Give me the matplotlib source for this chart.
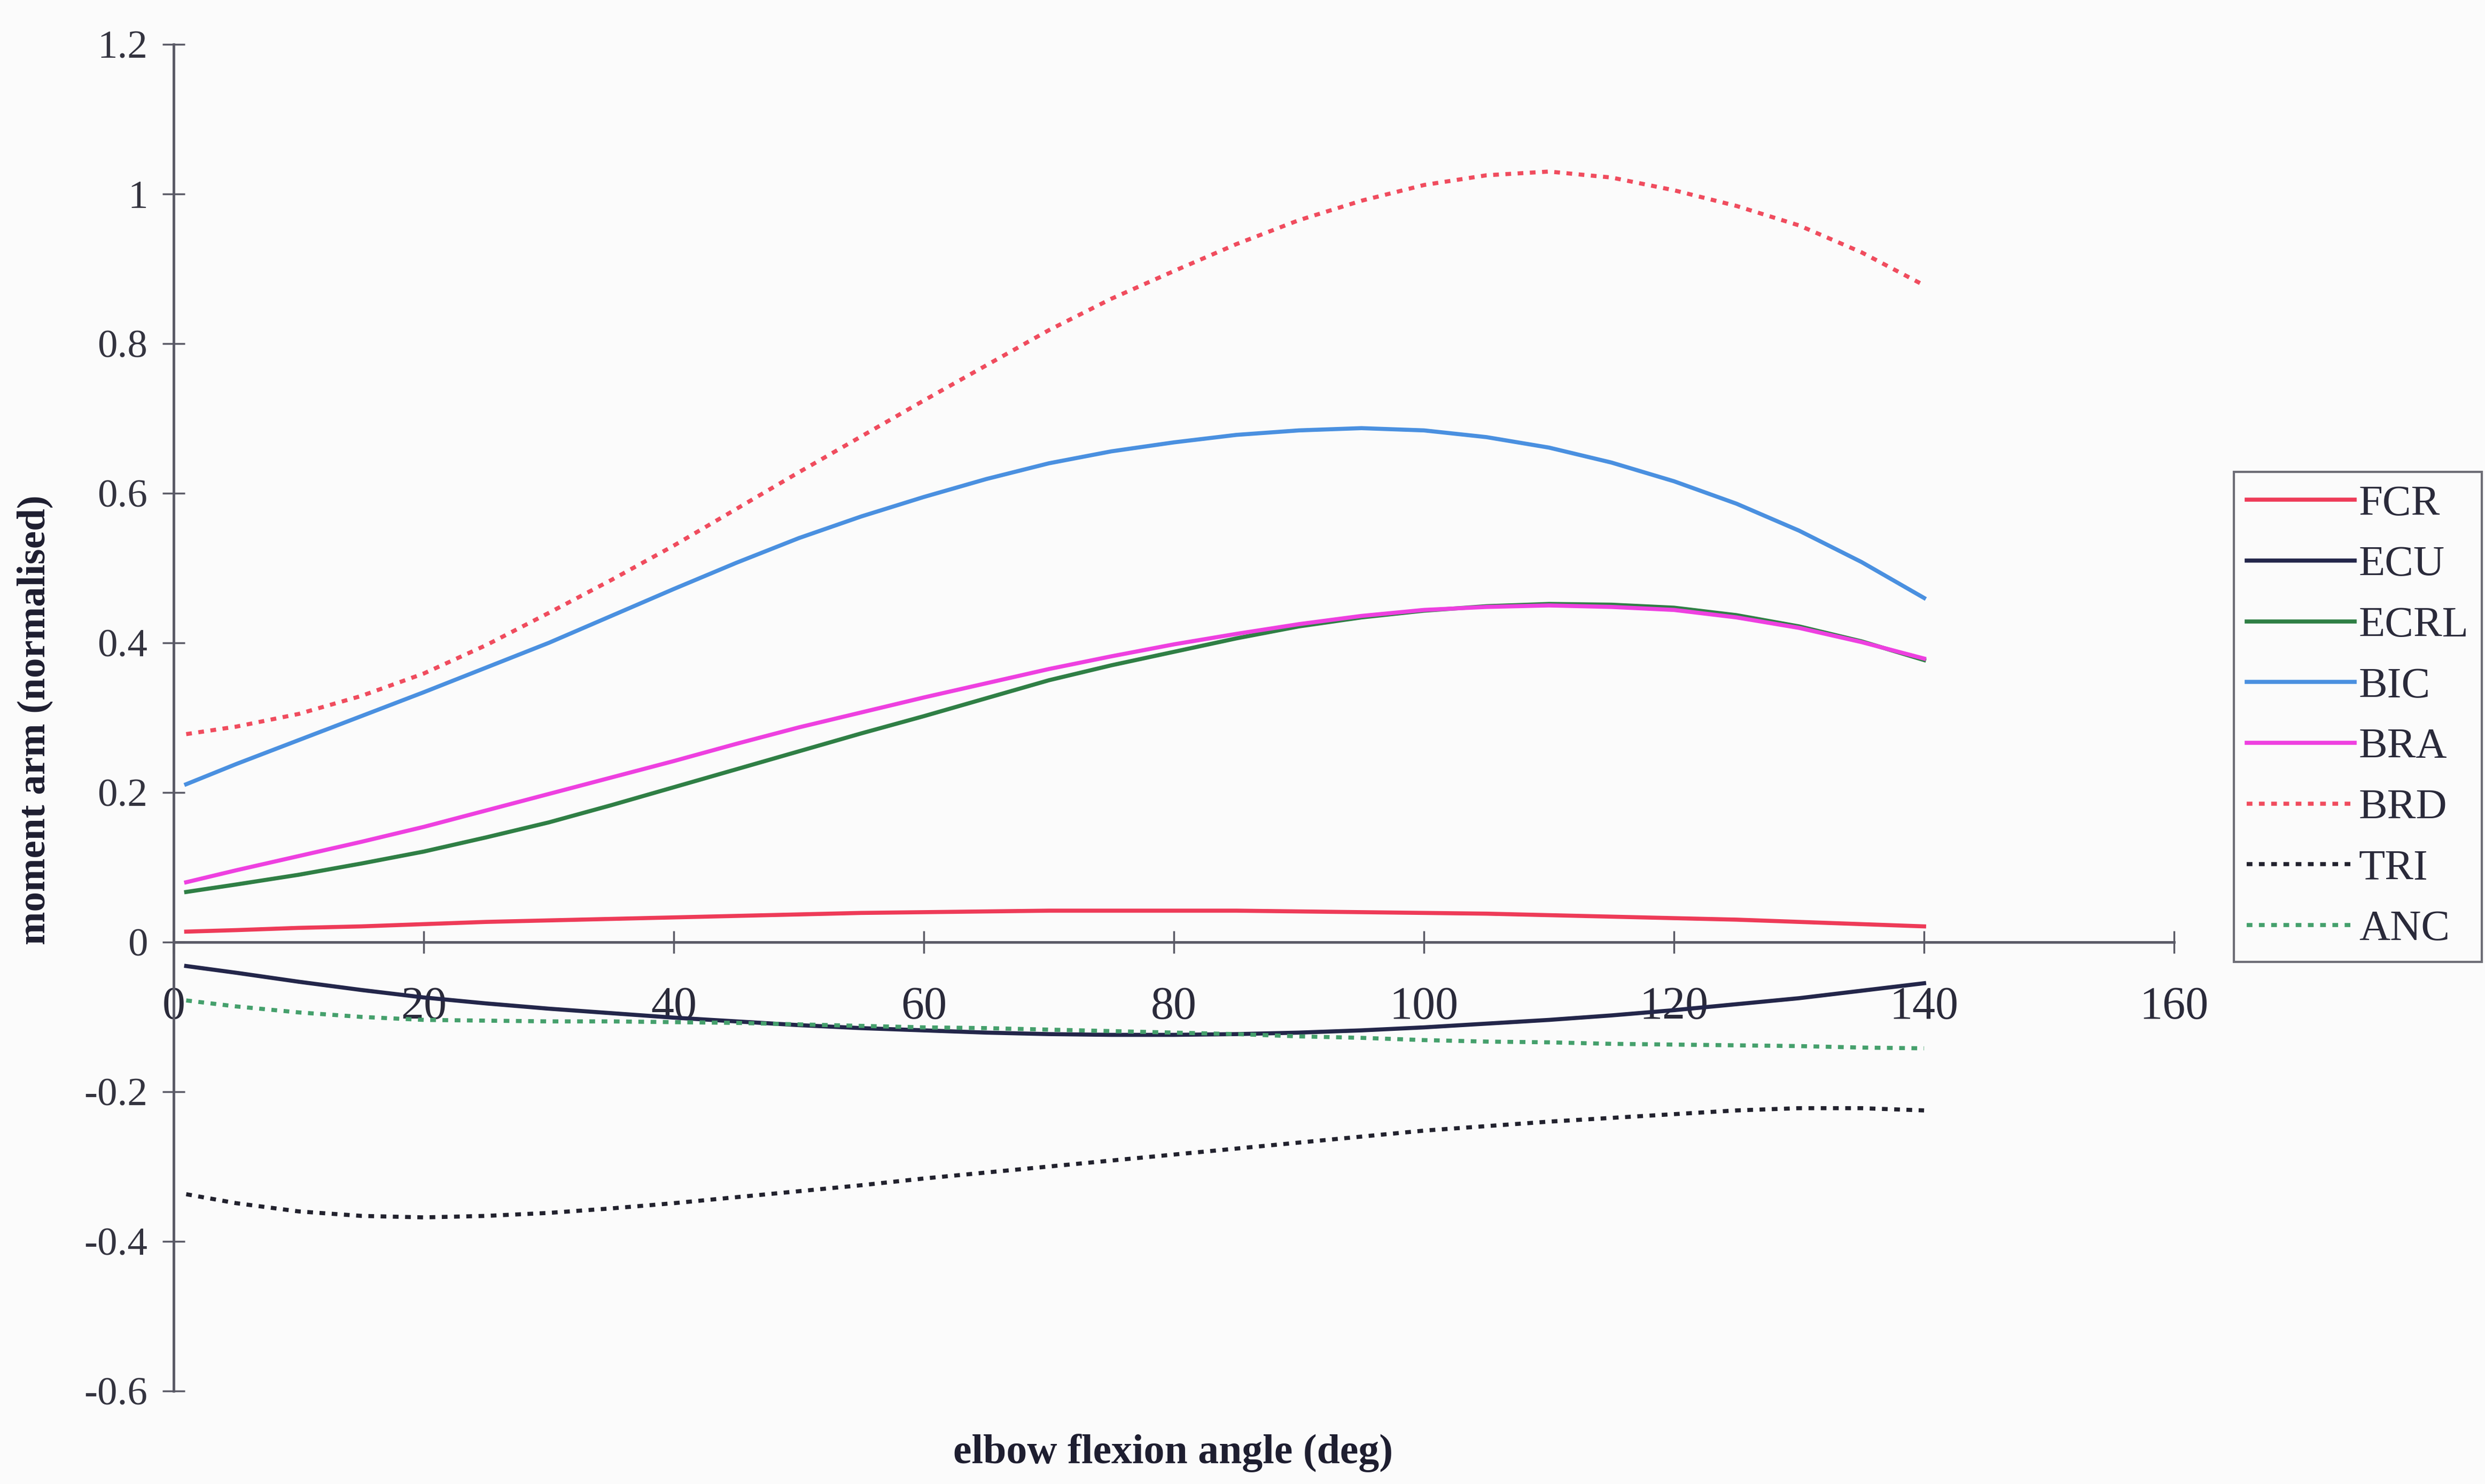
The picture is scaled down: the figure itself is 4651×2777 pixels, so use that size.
import matplotlib
matplotlib.use('Agg')
import matplotlib.pyplot as plt

# Data (elbow flexion angle in deg, normalised moment arm)
angle = [1, 5, 10, 15, 20, 25, 30, 35, 40, 45, 50, 55, 60, 65, 70,
         75, 80, 85, 90, 95, 100, 105, 110, 115, 120, 125, 130, 135, 140]

fcr = [0.014, 0.016, 0.019, 0.021, 0.024, 0.027, 0.029, 0.031, 0.033, 0.035, 0.037, 0.039, 0.040, 0.041, 0.042,
       0.042, 0.042, 0.042, 0.041, 0.040, 0.039, 0.038, 0.036, 0.034, 0.032, 0.030, 0.027, 0.024, 0.021]
ecu = [-0.032, -0.041, -0.053, -0.064, -0.074, -0.082, -0.089, -0.095, -0.101, -0.106, -0.111, -0.115, -0.118, -0.121, -0.123,
       -0.124, -0.124, -0.123, -0.121, -0.118, -0.114, -0.109, -0.104, -0.098, -0.091, -0.083, -0.075, -0.065, -0.055]
ecrl = [0.067, 0.077, 0.090, 0.105, 0.121, 0.140, 0.160, 0.183, 0.207, 0.231, 0.255, 0.279, 0.302, 0.326, 0.350,
        0.370, 0.388, 0.406, 0.422, 0.434, 0.443, 0.449, 0.452, 0.451, 0.447, 0.437, 0.422, 0.402, 0.377]
bic = [0.211, 0.238, 0.270, 0.302, 0.334, 0.367, 0.400, 0.436, 0.472, 0.507, 0.540, 0.569, 0.595, 0.619, 0.640,
       0.656, 0.668, 0.678, 0.684, 0.687, 0.684, 0.675, 0.661, 0.641, 0.616, 0.586, 0.550, 0.508, 0.460]
bra = [0.080, 0.096, 0.115, 0.134, 0.154, 0.176, 0.198, 0.220, 0.242, 0.265, 0.287, 0.307, 0.327, 0.346, 0.365,
       0.382, 0.398, 0.412, 0.425, 0.436, 0.444, 0.448, 0.450, 0.448, 0.444, 0.434, 0.420, 0.401, 0.379]
brd = [0.278, 0.288, 0.305, 0.329, 0.359, 0.397, 0.440, 0.484, 0.530, 0.579, 0.628, 0.676, 0.724, 0.771, 0.818,
       0.860, 0.897, 0.933, 0.965, 0.991, 1.012, 1.025, 1.030, 1.022, 1.005, 0.984, 0.958, 0.922, 0.878]
tri = [-0.337, -0.349, -0.360, -0.366, -0.368, -0.366, -0.362, -0.356, -0.349, -0.341, -0.333, -0.325, -0.316, -0.308, -0.300,
       -0.292, -0.284, -0.276, -0.268, -0.260, -0.252, -0.246, -0.240, -0.235, -0.230, -0.225, -0.222, -0.222, -0.225]
anc = [-0.078, -0.086, -0.094, -0.100, -0.104, -0.105, -0.106, -0.106, -0.107, -0.108, -0.110, -0.112, -0.114, -0.115, -0.117,
       -0.119, -0.121, -0.123, -0.126, -0.128, -0.131, -0.133, -0.134, -0.136, -0.137, -0.138, -0.139, -0.141, -0.142]

names = ['FCR', 'ECU', 'ECRL', 'BIC', 'BRA', 'BRD', 'TRI', 'ANC']
series = [fcr, ecu, ecrl, bic, bra, brd, tri, anc]
colors = ['#ee3b58', '#23264a', '#2f7f45', '#4a90e0', '#ee40e0', '#f04c5e', '#22222e', '#45a06c']
dotted = (0, (1.4, 1.6))
styles = ['-', '-', '-', '-', '-', dotted, dotted, dotted]

plt.rcParams['font.family'] = ['Liberation Serif', 'DejaVu Serif']

fig = plt.figure(figsize=(46.51, 27.77), dpi=100, facecolor='#fbfbfb')
ax = fig.add_axes([0.0699, 0.0627, 0.8050, 0.9074])
ax.set_facecolor('#fbfbfb')

for name, vals, c, ls in zip(names, series, colors, styles):
    ax.plot(angle, vals, color=c, linestyle=ls, linewidth=5.5, label=name)

ax.set_xlim(0, 160)
ax.set_ylim(-0.6, 1.2)
ax.set_xticks(range(0, 161, 20))
ax.set_yticks([-0.6, -0.4, -0.2, 0, 0.2, 0.4, 0.6, 0.8, 1, 1.2])
ax.set_yticklabels(['-0.6', '-0.4', '-0.2', '0', '0.2', '0.4', '0.6', '0.8', '1', '1.2'])

axis_col = '#5a5a66'
ax.spines['bottom'].set_position(('data', 0))
ax.spines['top'].set_visible(False)
ax.spines['right'].set_visible(False)
for s in ['bottom', 'left']:
    ax.spines[s].set_color(axis_col)
    ax.spines[s].set_linewidth(3.5)

ax.tick_params(axis='x', direction='inout', length=30, width=2.5, color=axis_col,
               labelsize=62, pad=44, labelcolor='#2a2a3a')
ax.tick_params(axis='y', direction='inout', length=30, width=2.5, color=axis_col,
               labelsize=54, pad=20, labelcolor='#33333f')

fig.text(0.014, 0.515, 'moment arm (normalised)', rotation=90, ha='center', va='center',
         fontsize=54, fontweight='bold', color='#1e1e30')
fig.text(0.472, 0.021, 'elbow flexion angle (deg)', ha='center', va='center',
         fontsize=56, fontweight='bold', color='#1e1e30')

leg = ax.legend(loc='upper left', bbox_to_anchor=(0.899, 0.682), bbox_transform=fig.transFigure,
                fontsize=58, frameon=True, fancybox=False, handlelength=2.5, handletextpad=0.1,
                labelspacing=0.5, borderpad=0.3, borderaxespad=0)
leg.get_frame().set_edgecolor('#4a4a55')
leg.get_frame().set_linewidth(3)
leg.get_frame().set_facecolor('#fbfbfb')
for t in leg.get_texts():
    t.set_color('#2a2a3a')

fig.savefig('out.png', dpi=100, facecolor=fig.get_facecolor())
